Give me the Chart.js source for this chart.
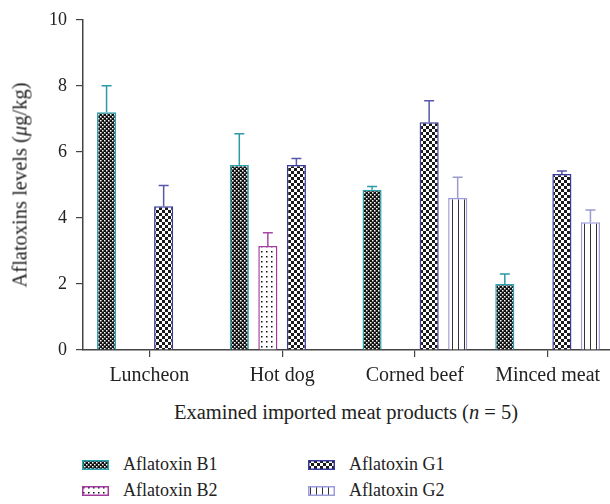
<!DOCTYPE html>
<html>
<head>
<meta charset="utf-8">
<script src="https://cdn.jsdelivr.net/npm/chart.js@4.4.1/dist/chart.umd.min.js"></script>
<style>
  html, body { margin: 0; padding: 0; background: #fff; overflow: hidden; }
  body { width: 610px; height: 504px; position: relative; font-family: "Liberation Serif", "DejaVu Serif", serif; color: #222; }
  #wrap { position: absolute; left: 0; top: 0; width: 614px; height: 400px; }
  .ytitle { position: absolute; left: 20px; top: 185px; transform: translate(-50%, -50%) rotate(-90deg); font-size: 20.5px; white-space: nowrap; }
  .xtitle { position: absolute; left: 346px; top: 412px; transform: translate(-50%, -50%); font-size: 20.5px; white-space: nowrap; }
  .leg { position: absolute; display: flex; align-items: center; font-size: 18px; white-space: nowrap; }
  .leg canvas { margin-right: 14px; }
</style>
</head>
<body>
<div id="wrap"><canvas id="chart" width="614" height="400"></canvas></div>
<div class="ytitle">Aflatoxins levels (<i>μ</i>g/kg)</div>
<div class="xtitle">Examined imported meat products (<i>n</i> = 5)</div>
<div class="leg" style="left:82px;top:454px"><canvas id="sw0" width="27" height="10"></canvas>Aflatoxin B1</div>
<div class="leg" style="left:82px;top:480px"><canvas id="sw1" width="27" height="10"></canvas>Aflatoxin B2</div>
<div class="leg" style="left:308px;top:454px"><canvas id="sw2" width="27" height="10"></canvas>Aflatoxin G1</div>
<div class="leg" style="left:308px;top:480px"><canvas id="sw3" width="27" height="10"></canvas>Aflatoxin G2</div>
<script>
const categories = ["Luncheon", "Hot dog", "Corned beef", "Minced meat"];
const seriesNames = ["Aflatoxin B1", "Aflatoxin B2", "Aflatoxin G1", "Aflatoxin G2"];
const b1 = [7.2, 5.6, 4.85, 2.0];
const b1Err = [0.8, 0.95, 0.1, 0.3];
const b2 = [null, 3.15, null, null];
const b2Err = [null, 0.4, null, null];
const g1 = [4.35, 5.6, 6.9, 5.33];
const g1Err = [0.63, 0.2, 0.65, 0.09];
const g2 = [null, null, 4.6, 3.87];
const g2Err = [null, null, 0.63, 0.37];
const yTicks = [0, 2, 4, 6, 8, 10];

const borderColors = ["#2aa3b0", "#a23a9f", "#3a3a9c", "#9c9cdb"];
const errColors = ["#2b9aa8", "#a64aa6", "#5757ab", "#9a9acd"];

function makePattern(kind) {
  const c = document.createElement("canvas");
  const g = c.getContext("2d");
  if (kind === "fine") {
    c.width = 4; c.height = 4;
    g.fillStyle = "#111"; g.fillRect(0, 0, 4, 4);
    g.fillStyle = "#fff";
    g.fillRect(0, 0, 1.5, 1.5);
    g.fillRect(2, 2, 1.5, 1.5);
  } else if (kind === "dots") {
    c.width = 5; c.height = 5;
    g.fillStyle = "#fff"; g.fillRect(0, 0, 5, 5);
    g.fillStyle = "#111";
    g.fillRect(1, 1, 1.5, 1.5);
  } else if (kind === "checker") {
    c.width = 6; c.height = 6;
    g.fillStyle = "#fff"; g.fillRect(0, 0, 6, 6);
    g.fillStyle = "#1a1a1a";
    g.fillRect(0, 0, 3, 3);
    g.fillRect(3, 3, 3, 3);
  } else {
    c.width = 6; c.height = 6;
    g.fillStyle = "#fff"; g.fillRect(0, 0, 6, 6);
    g.fillStyle = "#333";
    g.fillRect(2, 0, 1, 6);
  }
  return document.getElementById("chart").getContext("2d").createPattern(c, "repeat");
}

const patterns = [makePattern("fine"), makePattern("dots"), makePattern("checker"), makePattern("lines")];
const values = [b1, b2, g1, g2];
const errors = [b1Err, b2Err, g1Err, g2Err];

// legend swatches
for (let i = 0; i < 4; i++) {
  const sw = document.getElementById("sw" + i).getContext("2d");
  sw.fillStyle = patterns[i];
  sw.fillRect(0, 0, 27, 10);
  sw.strokeStyle = borderColors[i];
  sw.lineWidth = 1.5;
  sw.strokeRect(0.75, 0.75, 25.5, 8.5);
}

const errorBars = {
  id: "errorBars",
  afterDatasetsDraw(chart) {
    const ctx = chart.ctx;
    const y = chart.scales.y;
    chart.data.datasets.forEach((ds, di) => {
      const meta = chart.getDatasetMeta(di);
      meta.data.forEach((bar, i) => {
        const v = ds.data[i];
        const e = errors[di][i];
        if (v == null || e == null) return;
        const y0 = y.getPixelForValue(v);
        const y1 = y.getPixelForValue(v + e);
        ctx.save();
        ctx.strokeStyle = errColors[di];
        ctx.lineWidth = 1.5;
        ctx.beginPath();
        ctx.moveTo(bar.x, y0);
        ctx.lineTo(bar.x, y1);
        ctx.moveTo(bar.x - 5, y1);
        ctx.lineTo(bar.x + 5, y1);
        ctx.stroke();
        ctx.restore();
      });
    });
  },
};

const yFont = { family: "'Liberation Serif', serif", size: 18 };
const xFont = { family: "'Liberation Serif', serif", size: 20 };

new Chart(document.getElementById("chart"), {
  type: "bar",
  data: {
    labels: categories,
    datasets: seriesNames.map((name, i) => ({
      label: name,
      data: values[i],
      backgroundColor: patterns[i],
      borderColor: borderColors[i],
      borderWidth: 1.5,
      categoryPercentage: 0.86,
      barPercentage: 0.67,
    })),
  },
  options: {
    responsive: false,
    animation: false,
    layout: { padding: { top: 17, left: 0, right: 0, bottom: 0 } },
    plugins: { legend: { display: false }, tooltip: { enabled: false } },
    scales: {
      x: {
        grid: { display: true, drawOnChartArea: false, offset: false, tickLength: 7, color: "#444", lineWidth: 1.2 },
        border: { display: true, color: "#444", width: 1.5 },
        ticks: { font: xFont, color: "#222", padding: 7 },
        afterFit(scale) { scale.height = 50; },
      },
      y: {
        min: 0,
        max: 10,
        afterBuildTicks(scale) { scale.ticks = yTicks.map((v) => ({ value: v })); },
        grid: { display: true, drawOnChartArea: false, tickLength: 7, color: "#444", lineWidth: 1.2 },
        border: { display: true, color: "#444", width: 1.5 },
        ticks: { font: yFont, color: "#222", padding: 9 },
        afterFit(scale) { scale.width = 83; },
      },
    },
  },
  plugins: [errorBars],
});
</script>
</body>
</html>
